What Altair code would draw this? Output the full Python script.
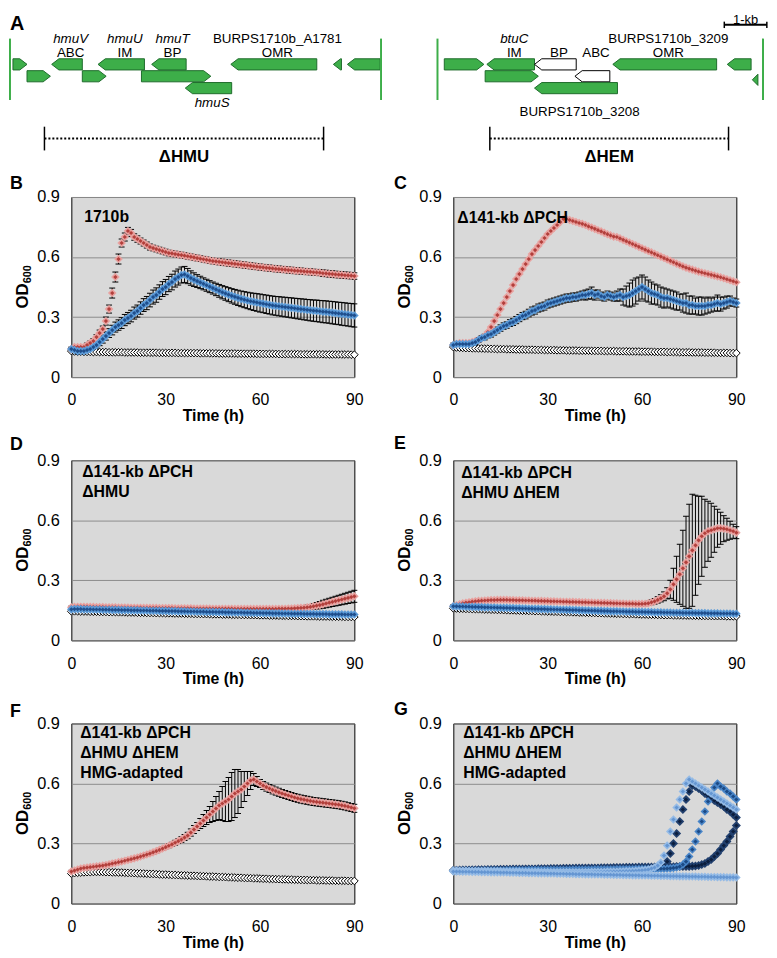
import altair as alt
import pandas as pd

HOURS = list(range(91))

# ---------------- Panel A : gene maps (kb from each locus' left boundary) ----------------
HMU_START = [0.07, 0.98, 2.07, 3.33, 5.19, 7.60, 7.93, 0.40, 1.70, 3.09, 4.12]
HMU_END = [0.40, 1.70, 3.16, 4.14, 7.21, 7.79, 8.70, 0.95, 2.26, 4.72, 5.21]
HMU_STRAND = ["+", "-", "-", "-", "-", "-", "-", "+", "+", "+", "-"]
HMU_TRACK = [1, 1, 1, 1, 1, 1, 1, 2, 2, 2, 3]
HMU_KIND = ["g", "g", "g", "g", "g", "g", "g", "g", "g", "g", "g"]
HMU_LENGTH = 8.72
HMU_LAB_GENE = [1, 1, 2, 2, 3, 3, 4, 4, 10]
HMU_LAB_TEXT = ["hmuV", "ABC", "hmuU", "IM", "hmuT", "BP", "BURPS1710b_A1781", "OMR", "hmuS"]
HMU_LAB_LINE = ["name", "func", "name", "func", "name", "func", "name", "func", "below"]
HMU_LAB_ITALIC = [True, False, True, False, True, False, False, False, True]
HMU_DEL = [0.81, 7.37]

HEM_START = [0.16, 1.16, 2.28, 4.12, 6.81, 1.12, 3.23, 7.40, 2.28]
HEM_END = [1.09, 2.28, 3.26, 6.56, 7.37, 2.37, 4.05, 7.53, 4.23]
HEM_STRAND = ["+", "-", "-", "-", "-", "+", "-", "-", "-"]
HEM_TRACK = [1, 1, 1, 1, 1, 2, 2, 2.3, 3]
HEM_KIND = ["g", "g", "w", "g", "g", "g", "w", "g", "g"]
HEM_LENGTH = 7.65
HEM_LAB_GENE = [1, 1, 2, 6, 3, 3, 8]
HEM_LAB_TEXT = ["btuC", "IM", "BP", "ABC", "BURPS1710b_3209", "OMR", "BURPS1710b_3208"]
HEM_LAB_LINE = ["name", "func", "func", "func", "name", "func", "below2"]
HEM_LAB_ITALIC = [True, False, False, False, False, False, False]
HEM_DEL = [1.23, 6.84]
SCALE_BAR = [6.74, 7.74]

# ---------------- Growth curves (OD600 each hour, 0-90 h) ----------------
B_RED = [0.14, 0.15, 0.15, 0.15, 0.15, 0.16, 0.17, 0.18, 0.20, 0.22,
         0.24, 0.28, 0.34, 0.42, 0.50, 0.59, 0.67, 0.70, 0.73, 0.72,
         0.70, 0.69, 0.68, 0.67, 0.66, 0.65, 0.645, 0.64, 0.635, 0.63,
         0.625, 0.62, 0.618, 0.615, 0.612, 0.61, 0.607, 0.604, 0.601, 0.598,
         0.595, 0.592, 0.589, 0.586, 0.583, 0.58, 0.578, 0.576, 0.574, 0.572,
         0.57, 0.568, 0.566, 0.564, 0.562, 0.56, 0.558, 0.556, 0.554, 0.552,
         0.55, 0.548, 0.546, 0.545, 0.543, 0.541, 0.54, 0.538, 0.537, 0.535,
         0.534, 0.532, 0.531, 0.53, 0.528, 0.527, 0.526, 0.524, 0.523, 0.522,
         0.519, 0.518, 0.516, 0.515, 0.513, 0.512, 0.511, 0.509, 0.508, 0.507,
         0.505]
B_RED_ERR = [0.008, 0.008, 0.008, 0.008, 0.008, 0.01, 0.01, 0.012, 0.012, 0.015,
             0.015, 0.02, 0.02, 0.025, 0.025, 0.025, 0.02, 0.02, 0.018, 0.018,
             0.016, 0.016, 0.015, 0.015, 0.015, 0.015, 0.014, 0.014, 0.014, 0.014,
             0.014, 0.014, 0.014, 0.014, 0.014, 0.014, 0.014, 0.014, 0.014, 0.014,
             0.014, 0.014, 0.014, 0.014, 0.014, 0.014, 0.014, 0.015, 0.015, 0.015,
             0.015, 0.015, 0.015, 0.015, 0.015, 0.015, 0.015, 0.015, 0.015, 0.015,
             0.015, 0.015, 0.015, 0.015, 0.015, 0.015, 0.015, 0.015, 0.015, 0.015,
             0.015, 0.015, 0.015, 0.015, 0.015, 0.015, 0.015, 0.015, 0.015, 0.015,
             0.016, 0.016, 0.016, 0.016, 0.016, 0.016, 0.016, 0.016, 0.016, 0.016,
             0.016]
B_BLUE = [0.14, 0.135, 0.13, 0.13, 0.13, 0.135, 0.14, 0.15, 0.16, 0.175,
          0.19, 0.205, 0.22, 0.235, 0.25, 0.26, 0.27, 0.285, 0.295, 0.305,
          0.32, 0.33, 0.345, 0.36, 0.37, 0.385, 0.40, 0.41, 0.425, 0.44,
          0.45, 0.465, 0.475, 0.49, 0.50, 0.51, 0.513, 0.505, 0.495, 0.487,
          0.48, 0.473, 0.466, 0.459, 0.452, 0.445, 0.438, 0.431, 0.424, 0.418,
          0.412, 0.406, 0.401, 0.396, 0.391, 0.387, 0.383, 0.379, 0.376, 0.373,
          0.37, 0.367, 0.364, 0.361, 0.358, 0.356, 0.354, 0.352, 0.35, 0.348,
          0.346, 0.344, 0.342, 0.34, 0.338, 0.336, 0.334, 0.332, 0.331, 0.329,
          0.327, 0.326, 0.324, 0.322, 0.32, 0.318, 0.316, 0.314, 0.312, 0.31,
          0.308]
B_BLUE_ERR = [0.01, 0.01, 0.01, 0.01, 0.01, 0.012, 0.012, 0.015, 0.015, 0.018,
              0.02, 0.02, 0.022, 0.024, 0.025, 0.026, 0.027, 0.028, 0.028, 0.029,
              0.03, 0.03, 0.031, 0.032, 0.033, 0.034, 0.035, 0.036, 0.036, 0.037,
              0.038, 0.038, 0.039, 0.04, 0.04, 0.04, 0.04, 0.038, 0.036, 0.034,
              0.032, 0.031, 0.03, 0.03, 0.03, 0.03, 0.031, 0.032, 0.033, 0.034,
              0.035, 0.036, 0.037, 0.038, 0.039, 0.04, 0.041, 0.042, 0.043, 0.044,
              0.045, 0.045, 0.046, 0.046, 0.047, 0.047, 0.048, 0.048, 0.049, 0.049,
              0.05, 0.05, 0.051, 0.051, 0.052, 0.052, 0.053, 0.053, 0.054, 0.054,
              0.055, 0.055, 0.055, 0.056, 0.056, 0.056, 0.057, 0.057, 0.057, 0.058,
              0.058]
B_BLACK = [0.13, 0.128, 0.127, 0.127, 0.126, 0.126, 0.126, 0.125, 0.125, 0.125,
           0.125, 0.125, 0.124, 0.124, 0.124, 0.124, 0.124, 0.123, 0.123, 0.123,
           0.123, 0.123, 0.122, 0.122, 0.122, 0.122, 0.122, 0.122, 0.121, 0.121,
           0.121, 0.121, 0.121, 0.121, 0.12, 0.12, 0.12, 0.12, 0.12, 0.12,
           0.12, 0.119, 0.119, 0.119, 0.119, 0.119, 0.119, 0.118, 0.118, 0.118,
           0.118, 0.118, 0.118, 0.117, 0.117, 0.117, 0.117, 0.117, 0.117, 0.116,
           0.116, 0.116, 0.116, 0.116, 0.116, 0.116, 0.115, 0.115, 0.115, 0.115,
           0.115, 0.115, 0.115, 0.114, 0.114, 0.114, 0.114, 0.114, 0.114, 0.114,
           0.114, 0.113, 0.113, 0.113, 0.113, 0.113, 0.113, 0.113, 0.113, 0.112,
           0.112]

C_RED = [0.16, 0.165, 0.17, 0.17, 0.17, 0.17, 0.175, 0.18, 0.185, 0.195,
         0.205, 0.225, 0.25, 0.28, 0.31, 0.34, 0.37, 0.40, 0.43, 0.46,
         0.49, 0.515, 0.54, 0.565, 0.59, 0.615, 0.635, 0.655, 0.675, 0.695,
         0.715, 0.73, 0.745, 0.76, 0.775, 0.79, 0.79, 0.785, 0.78, 0.775,
         0.77, 0.766, 0.76, 0.753, 0.747, 0.741, 0.734, 0.728, 0.721, 0.714,
         0.708, 0.702, 0.70, 0.693, 0.686, 0.679, 0.672, 0.665, 0.658, 0.651,
         0.644, 0.637, 0.63, 0.623, 0.616, 0.609, 0.602, 0.595, 0.588, 0.581,
         0.574, 0.567, 0.56, 0.553, 0.547, 0.542, 0.537, 0.532, 0.527, 0.523,
         0.519, 0.515, 0.511, 0.507, 0.503, 0.499, 0.494, 0.489, 0.484, 0.479,
         0.474]
C_BLUE = [0.16, 0.165, 0.165, 0.165, 0.165, 0.165, 0.17, 0.175, 0.185, 0.195,
          0.20, 0.21, 0.215, 0.225, 0.235, 0.245, 0.255, 0.26, 0.27, 0.275,
          0.285, 0.295, 0.305, 0.31, 0.32, 0.33, 0.335, 0.345, 0.35, 0.355,
          0.365, 0.37, 0.375, 0.38, 0.385, 0.39, 0.395, 0.395, 0.40, 0.40,
          0.405, 0.41, 0.41, 0.415, 0.42, 0.41, 0.415, 0.405, 0.40, 0.41,
          0.405, 0.40, 0.405, 0.41, 0.40, 0.405, 0.41, 0.42, 0.43, 0.44,
          0.45, 0.44, 0.43, 0.42, 0.415, 0.41, 0.40, 0.395, 0.395, 0.39,
          0.385, 0.38, 0.375, 0.37, 0.37, 0.36, 0.36, 0.355, 0.355, 0.355,
          0.355, 0.36, 0.36, 0.365, 0.37, 0.365, 0.37, 0.375, 0.38, 0.375,
          0.37]
C_BLUE_ERR = [0.01, 0.01, 0.01, 0.01, 0.01, 0.01, 0.01, 0.012, 0.012, 0.012,
              0.014, 0.014, 0.015, 0.015, 0.015, 0.016, 0.016, 0.016, 0.017, 0.017,
              0.018, 0.018, 0.018, 0.019, 0.019, 0.02, 0.02, 0.02, 0.02, 0.02,
              0.02, 0.02, 0.02, 0.02, 0.02, 0.02, 0.02, 0.02, 0.02, 0.02,
              0.02, 0.02, 0.025, 0.025, 0.03, 0.025, 0.02, 0.02, 0.02, 0.02,
              0.02, 0.02, 0.025, 0.03, 0.04, 0.05, 0.06, 0.065, 0.065, 0.06,
              0.06, 0.06, 0.055, 0.055, 0.05, 0.05, 0.05, 0.05, 0.045, 0.045,
              0.045, 0.045, 0.04, 0.045, 0.05, 0.045, 0.045, 0.04, 0.045, 0.045,
              0.04, 0.04, 0.035, 0.035, 0.04, 0.035, 0.03, 0.03, 0.025, 0.02,
              0.02]
C_BLACK = [0.15, 0.148, 0.147, 0.146, 0.145, 0.145, 0.144, 0.144, 0.143, 0.143,
           0.142, 0.142, 0.141, 0.141, 0.14, 0.14, 0.14, 0.139, 0.139, 0.139,
           0.138, 0.138, 0.138, 0.137, 0.137, 0.137, 0.136, 0.136, 0.136, 0.135,
           0.135, 0.135, 0.135, 0.134, 0.134, 0.134, 0.133, 0.133, 0.133, 0.133,
           0.132, 0.132, 0.132, 0.132, 0.131, 0.131, 0.131, 0.131, 0.13, 0.13,
           0.13, 0.13, 0.129, 0.129, 0.129, 0.129, 0.128, 0.128, 0.128, 0.128,
           0.127, 0.127, 0.127, 0.127, 0.126, 0.126, 0.126, 0.126, 0.125, 0.125,
           0.125, 0.125, 0.124, 0.124, 0.124, 0.124, 0.123, 0.123, 0.123, 0.123,
           0.122, 0.122, 0.122, 0.122, 0.121, 0.121, 0.121, 0.121, 0.12, 0.12,
           0.12]

D_RED = [0.165, 0.167, 0.168, 0.168, 0.168, 0.168, 0.167, 0.167, 0.166, 0.166,
         0.166, 0.165, 0.165, 0.165, 0.165, 0.164, 0.164, 0.164, 0.164, 0.163,
         0.163, 0.163, 0.163, 0.162, 0.162, 0.162, 0.162, 0.162, 0.161, 0.161,
         0.161, 0.161, 0.161, 0.16, 0.16, 0.16, 0.16, 0.16, 0.16, 0.159,
         0.159, 0.159, 0.159, 0.159, 0.159, 0.158, 0.158, 0.158, 0.158, 0.158,
         0.158, 0.158, 0.157, 0.157, 0.157, 0.157, 0.157, 0.157, 0.157, 0.157,
         0.157, 0.157, 0.157, 0.157, 0.157, 0.157, 0.158, 0.158, 0.158, 0.159,
         0.159, 0.16, 0.161, 0.162, 0.163, 0.165, 0.167, 0.17, 0.173, 0.176,
         0.18, 0.184, 0.188, 0.192, 0.196, 0.2, 0.204, 0.208, 0.212, 0.216,
         0.22]
D_RED_ERR = [0.006, 0.006, 0.006, 0.006, 0.006, 0.006, 0.006, 0.006, 0.006, 0.006,
             0.006, 0.006, 0.006, 0.006, 0.006, 0.006, 0.006, 0.006, 0.006, 0.006,
             0.006, 0.006, 0.006, 0.006, 0.006, 0.006, 0.006, 0.006, 0.006, 0.006,
             0.006, 0.006, 0.006, 0.006, 0.006, 0.006, 0.006, 0.006, 0.006, 0.006,
             0.006, 0.006, 0.006, 0.006, 0.006, 0.006, 0.006, 0.006, 0.006, 0.006,
             0.006, 0.006, 0.006, 0.006, 0.006, 0.006, 0.006, 0.006, 0.006, 0.006,
             0.006, 0.006, 0.006, 0.006, 0.006, 0.006, 0.006, 0.006, 0.006, 0.006,
             0.006, 0.007, 0.008, 0.009, 0.01, 0.011, 0.012, 0.014, 0.016, 0.018,
             0.02, 0.021, 0.022, 0.023, 0.024, 0.025, 0.026, 0.027, 0.028, 0.029,
             0.03]
D_BLUE = [0.155, 0.156, 0.156, 0.156, 0.155, 0.155, 0.155, 0.154, 0.154, 0.154,
          0.153, 0.153, 0.153, 0.152, 0.152, 0.152, 0.151, 0.151, 0.151, 0.15,
          0.15, 0.15, 0.149, 0.149, 0.149, 0.148, 0.148, 0.148, 0.147, 0.147,
          0.147, 0.146, 0.146, 0.146, 0.145, 0.145, 0.145, 0.144, 0.144, 0.144,
          0.143, 0.143, 0.143, 0.142, 0.142, 0.142, 0.141, 0.141, 0.141, 0.14,
          0.14, 0.14, 0.139, 0.139, 0.139, 0.138, 0.138, 0.138, 0.137, 0.137,
          0.137, 0.136, 0.136, 0.136, 0.135, 0.135, 0.135, 0.134, 0.134, 0.134,
          0.133, 0.133, 0.133, 0.133, 0.132, 0.132, 0.132, 0.132, 0.131, 0.131,
          0.131, 0.131, 0.13, 0.13, 0.13, 0.13, 0.13, 0.129, 0.129, 0.129,
          0.129]
D_BLACK = [0.145, 0.145, 0.145, 0.144, 0.144, 0.144, 0.143, 0.143, 0.143, 0.142,
           0.142, 0.142, 0.141, 0.141, 0.141, 0.14, 0.14, 0.14, 0.139, 0.139,
           0.139, 0.138, 0.138, 0.138, 0.137, 0.137, 0.137, 0.136, 0.136, 0.136,
           0.135, 0.135, 0.135, 0.134, 0.134, 0.134, 0.133, 0.133, 0.133, 0.132,
           0.132, 0.132, 0.131, 0.131, 0.131, 0.13, 0.13, 0.13, 0.129, 0.129,
           0.129, 0.128, 0.128, 0.128, 0.127, 0.127, 0.127, 0.126, 0.126, 0.126,
           0.125, 0.125, 0.125, 0.124, 0.124, 0.124, 0.123, 0.123, 0.123, 0.122,
           0.122, 0.122, 0.121, 0.121, 0.121, 0.12, 0.12, 0.12, 0.12, 0.119,
           0.119, 0.119, 0.119, 0.118, 0.118, 0.118, 0.118, 0.117, 0.117, 0.117,
           0.117]

E_RED = [0.17, 0.175, 0.18, 0.185, 0.188, 0.19, 0.193, 0.195, 0.197, 0.198,
         0.199, 0.2, 0.201, 0.201, 0.202, 0.202, 0.202, 0.202, 0.201, 0.201,
         0.2, 0.2, 0.2, 0.199, 0.199, 0.198, 0.198, 0.197, 0.197, 0.196,
         0.196, 0.195, 0.195, 0.194, 0.194, 0.193, 0.193, 0.192, 0.192, 0.191,
         0.191, 0.19, 0.19, 0.189, 0.189, 0.188, 0.188, 0.187, 0.187, 0.186,
         0.186, 0.185, 0.185, 0.184, 0.184, 0.183, 0.183, 0.183, 0.182, 0.182,
         0.182, 0.183, 0.185, 0.19, 0.195, 0.202, 0.21, 0.22, 0.235, 0.255,
         0.28, 0.305, 0.33, 0.36, 0.39, 0.42, 0.45, 0.475, 0.5, 0.52,
         0.535, 0.545, 0.55, 0.555, 0.56, 0.56, 0.558, 0.555, 0.55, 0.545,
         0.538]
E_RED_ERR = [0.008, 0.008, 0.008, 0.008, 0.008, 0.008, 0.008, 0.008, 0.008, 0.008,
             0.008, 0.008, 0.008, 0.008, 0.008, 0.008, 0.008, 0.008, 0.008, 0.008,
             0.008, 0.008, 0.008, 0.008, 0.008, 0.008, 0.008, 0.008, 0.008, 0.008,
             0.008, 0.008, 0.008, 0.008, 0.008, 0.008, 0.008, 0.008, 0.008, 0.008,
             0.008, 0.008, 0.008, 0.008, 0.008, 0.008, 0.008, 0.008, 0.008, 0.008,
             0.008, 0.008, 0.008, 0.008, 0.008, 0.009, 0.009, 0.009, 0.009, 0.009,
             0.01, 0.01, 0.01, 0.012, 0.014, 0.016, 0.018, 0.022, 0.028, 0.045,
             0.08, 0.115, 0.15, 0.19, 0.23, 0.26, 0.28, 0.25, 0.22, 0.2,
             0.17, 0.15, 0.135, 0.115, 0.095, 0.08, 0.065, 0.055, 0.045, 0.035,
             0.03]
E_BLUE = [0.17, 0.17, 0.169, 0.169, 0.168, 0.168, 0.167, 0.167, 0.166, 0.166,
          0.165, 0.165, 0.164, 0.164, 0.163, 0.163, 0.162, 0.162, 0.161, 0.161,
          0.16, 0.16, 0.159, 0.159, 0.158, 0.158, 0.157, 0.157, 0.156, 0.156,
          0.155, 0.155, 0.154, 0.154, 0.153, 0.153, 0.152, 0.152, 0.151, 0.151,
          0.15, 0.15, 0.149, 0.149, 0.148, 0.148, 0.147, 0.147, 0.146, 0.146,
          0.145, 0.145, 0.145, 0.144, 0.144, 0.143, 0.143, 0.143, 0.142, 0.142,
          0.142, 0.141, 0.141, 0.141, 0.14, 0.14, 0.14, 0.139, 0.139, 0.139,
          0.138, 0.138, 0.138, 0.137, 0.137, 0.137, 0.137, 0.136, 0.136, 0.136,
          0.136, 0.135, 0.135, 0.135, 0.135, 0.134, 0.134, 0.134, 0.134, 0.133,
          0.133]
E_BLACK = [0.16, 0.159, 0.158, 0.158, 0.157, 0.157, 0.156, 0.156, 0.155, 0.155,
           0.154, 0.154, 0.153, 0.153, 0.152, 0.152, 0.151, 0.151, 0.15, 0.15,
           0.149, 0.149, 0.148, 0.148, 0.147, 0.147, 0.146, 0.146, 0.145, 0.145,
           0.144, 0.144, 0.143, 0.143, 0.142, 0.142, 0.141, 0.141, 0.14, 0.14,
           0.139, 0.139, 0.138, 0.138, 0.137, 0.137, 0.136, 0.136, 0.135, 0.135,
           0.134, 0.134, 0.133, 0.133, 0.132, 0.132, 0.131, 0.131, 0.13, 0.13,
           0.129, 0.129, 0.128, 0.128, 0.128, 0.127, 0.127, 0.126, 0.126, 0.126,
           0.125, 0.125, 0.125, 0.124, 0.124, 0.124, 0.123, 0.123, 0.123, 0.122,
           0.122, 0.122, 0.122, 0.121, 0.121, 0.121, 0.121, 0.12, 0.12, 0.12,
           0.12]

F_RED = [0.16, 0.165, 0.17, 0.175, 0.178, 0.18, 0.182, 0.184, 0.186, 0.188,
         0.19, 0.193, 0.196, 0.2, 0.203, 0.207, 0.21, 0.214, 0.218, 0.222,
         0.226, 0.23, 0.235, 0.24, 0.245, 0.25, 0.256, 0.262, 0.268, 0.275,
         0.282, 0.289, 0.296, 0.304, 0.312, 0.32, 0.33, 0.34, 0.355, 0.37,
         0.385, 0.4, 0.415, 0.43, 0.445, 0.46, 0.475, 0.49, 0.5, 0.51,
         0.52, 0.535, 0.55, 0.56, 0.57, 0.585, 0.6, 0.615, 0.62, 0.61,
         0.6, 0.59, 0.582, 0.575, 0.568, 0.562, 0.556, 0.55, 0.545, 0.54,
         0.535, 0.53, 0.526, 0.522, 0.519, 0.516, 0.513, 0.51, 0.508, 0.506,
         0.504, 0.502, 0.5, 0.498, 0.496, 0.494, 0.491, 0.488, 0.484, 0.48,
         0.476]
F_RED_ERR = [0.006, 0.006, 0.006, 0.007, 0.007, 0.007, 0.007, 0.007, 0.008, 0.008,
             0.008, 0.008, 0.008, 0.008, 0.008, 0.008, 0.008, 0.008, 0.008, 0.008,
             0.008, 0.008, 0.008, 0.008, 0.008, 0.008, 0.008, 0.008, 0.008, 0.008,
             0.008, 0.01, 0.01, 0.012, 0.012, 0.014, 0.015, 0.016, 0.018, 0.02,
             0.02, 0.025, 0.03, 0.035, 0.04, 0.05, 0.06, 0.07, 0.085, 0.1,
             0.11, 0.12, 0.12, 0.11, 0.09, 0.075, 0.06, 0.045, 0.03, 0.025,
             0.02, 0.02, 0.02, 0.02, 0.02, 0.02, 0.02, 0.02, 0.02, 0.02,
             0.02, 0.02, 0.02, 0.02, 0.02, 0.02, 0.02, 0.02, 0.02, 0.02,
             0.02, 0.02, 0.02, 0.02, 0.02, 0.02, 0.02, 0.02, 0.02, 0.02,
             0.02]
F_BLACK = [0.15, 0.152, 0.154, 0.155, 0.156, 0.157, 0.157, 0.158, 0.158, 0.158,
           0.158, 0.157, 0.157, 0.156, 0.156, 0.155, 0.155, 0.154, 0.153, 0.153,
           0.152, 0.151, 0.151, 0.15, 0.149, 0.148, 0.148, 0.147, 0.146, 0.145,
           0.145, 0.144, 0.143, 0.143, 0.142, 0.141, 0.141, 0.14, 0.139, 0.139,
           0.138, 0.137, 0.137, 0.136, 0.135, 0.135, 0.134, 0.133, 0.133, 0.132,
           0.131, 0.131, 0.13, 0.129, 0.129, 0.128, 0.127, 0.127, 0.126, 0.126,
           0.125, 0.124, 0.124, 0.123, 0.123, 0.122, 0.122, 0.121, 0.121, 0.12,
           0.12, 0.119, 0.119, 0.118, 0.118, 0.118, 0.117, 0.117, 0.116, 0.116,
           0.116, 0.115, 0.115, 0.115, 0.114, 0.114, 0.114, 0.114, 0.113, 0.113,
           0.113]

G_LIGHT_FLAT = [0.16, 0.16, 0.16, 0.159, 0.159, 0.159, 0.158, 0.158, 0.158, 0.157,
                0.157, 0.157, 0.156, 0.156, 0.156, 0.155, 0.155, 0.155, 0.154, 0.154,
                0.154, 0.153, 0.153, 0.153, 0.152, 0.152, 0.152, 0.151, 0.151, 0.151,
                0.15, 0.15, 0.15, 0.149, 0.149, 0.149, 0.148, 0.148, 0.148, 0.147,
                0.147, 0.147, 0.146, 0.146, 0.146, 0.145, 0.145, 0.145, 0.144, 0.144,
                0.144, 0.143, 0.143, 0.143, 0.142, 0.142, 0.142, 0.141, 0.141, 0.141,
                0.14, 0.14, 0.14, 0.139, 0.139, 0.139, 0.138, 0.138, 0.138, 0.137,
                0.137, 0.137, 0.136, 0.136, 0.136, 0.135, 0.135, 0.135, 0.134, 0.134,
                0.134, 0.133, 0.133, 0.133, 0.132, 0.132, 0.132, 0.131, 0.131, 0.131,
                0.13]
G_LIGHT = [0.165, 0.165, 0.164, 0.164, 0.164, 0.163, 0.163, 0.163, 0.162, 0.162,
           0.162, 0.162, 0.161, 0.161, 0.161, 0.161, 0.16, 0.16, 0.16, 0.16,
           0.16, 0.16, 0.159, 0.159, 0.159, 0.159, 0.159, 0.159, 0.158, 0.158,
           0.158, 0.158, 0.158, 0.158, 0.158, 0.158, 0.158, 0.158, 0.158, 0.158,
           0.158, 0.158, 0.158, 0.158, 0.159, 0.159, 0.159, 0.159, 0.159, 0.16,
           0.16, 0.16, 0.16, 0.161, 0.161, 0.162, 0.162, 0.163, 0.164, 0.165,
           0.166, 0.168, 0.17, 0.175, 0.18, 0.19, 0.205, 0.24, 0.29, 0.36,
           0.42, 0.48, 0.52, 0.56, 0.6, 0.62, 0.61, 0.6, 0.59, 0.58,
           0.57, 0.56, 0.55, 0.54, 0.53, 0.52, 0.51, 0.5, 0.49, 0.48,
           0.47]
G_NAVY1 = [0.164, 0.165, 0.165, 0.166, 0.166, 0.166, 0.167, 0.167, 0.167, 0.167,
           0.168, 0.168, 0.168, 0.168, 0.169, 0.169, 0.169, 0.169, 0.17, 0.17,
           0.17, 0.17, 0.17, 0.171, 0.171, 0.171, 0.171, 0.172, 0.172, 0.172,
           0.172, 0.172, 0.173, 0.173, 0.173, 0.173, 0.173, 0.174, 0.174, 0.174,
           0.174, 0.174, 0.175, 0.175, 0.175, 0.175, 0.175, 0.176, 0.176, 0.176,
           0.176, 0.176, 0.177, 0.177, 0.177, 0.177, 0.177, 0.178, 0.178, 0.178,
           0.178, 0.178, 0.179, 0.179, 0.18, 0.181, 0.183, 0.19, 0.21, 0.25,
           0.3, 0.35, 0.41, 0.47, 0.52, 0.56, 0.59, 0.585, 0.575, 0.565,
           0.55, 0.54, 0.53, 0.515, 0.505, 0.495, 0.485, 0.47, 0.46, 0.445,
           0.43]
G_MID = [0.163, 0.163, 0.163, 0.163, 0.164, 0.164, 0.164, 0.164, 0.164, 0.164,
         0.165, 0.165, 0.165, 0.165, 0.165, 0.165, 0.165, 0.166, 0.166, 0.166,
         0.166, 0.166, 0.166, 0.166, 0.167, 0.167, 0.167, 0.167, 0.167, 0.167,
         0.167, 0.168, 0.168, 0.168, 0.168, 0.168, 0.168, 0.168, 0.169, 0.169,
         0.169, 0.169, 0.169, 0.169, 0.169, 0.17, 0.17, 0.17, 0.17, 0.17,
         0.17, 0.17, 0.171, 0.171, 0.171, 0.171, 0.171, 0.171, 0.172, 0.172,
         0.172, 0.172, 0.172, 0.173, 0.173, 0.173, 0.174, 0.174, 0.175, 0.176,
         0.178, 0.18, 0.185, 0.195, 0.21, 0.235, 0.27, 0.31, 0.36, 0.41,
         0.46, 0.51, 0.55, 0.58, 0.6, 0.585, 0.575, 0.56, 0.55, 0.535,
         0.52]
G_NAVY2 = [0.166, 0.166, 0.167, 0.167, 0.167, 0.168, 0.168, 0.168, 0.169, 0.169,
           0.169, 0.17, 0.17, 0.17, 0.17, 0.171, 0.171, 0.171, 0.171, 0.172,
           0.172, 0.172, 0.172, 0.173, 0.173, 0.173, 0.173, 0.174, 0.174, 0.174,
           0.174, 0.175, 0.175, 0.175, 0.175, 0.176, 0.176, 0.176, 0.176, 0.177,
           0.177, 0.177, 0.177, 0.178, 0.178, 0.178, 0.178, 0.179, 0.179, 0.179,
           0.179, 0.18, 0.18, 0.18, 0.18, 0.181, 0.181, 0.181, 0.181, 0.182,
           0.182, 0.182, 0.182, 0.183, 0.183, 0.183, 0.183, 0.184, 0.184, 0.184,
           0.184, 0.185, 0.185, 0.185, 0.186, 0.186, 0.187, 0.188, 0.19, 0.195,
           0.2, 0.21, 0.22, 0.235, 0.25, 0.27, 0.29, 0.31, 0.335, 0.36,
           0.39]

# ---------------- styling / layout ----------------
FONT = "Liberation Sans"
GREEN = "#3DAE49"
GENE_FILL = {"g": GREEN, "w": "white"}
GENE_STROKE = {"g": "#1E6B2C", "w": "black"}
HEAD = 0.17
HALF = 0.47
A_H = 101
TRACK_DOMAIN = [-3.25, 5.17]
LINE_POS = {"name": -1.17, "func": 0.08, "below": 4.25, "below2": 5.0}
PANEL_W, PANEL_H = 286, 182

STYLE = {
    "red": ("#E8A19F", "#B23F3B", 76),
    "blue": ("#5C9BD8", "#1F4E8C", 76),
    "glight": ("#95BBE6", "#6596D2", 76),
    "gmid": ("#4A86C8", "#1C4A85", 76),
    "gnavy": ("#22406E", "#0C1E3D", 84),
}


def body_center(s, e, strand):
    return (s + e - HEAD) / 2 if strand == "+" else (s + HEAD + e) / 2


def locus_chart(start, end, strand, track, kind, length, lab_gene, lab_text,
                lab_line, lab_italic, dele, del_text, x_range, letter=None, bar=None):
    xs = alt.Scale(domain=[0, length], range=x_range, nice=False, zero=False)
    ys = alt.Scale(domain=TRACK_DOMAIN, range=[0, A_H], nice=False, zero=False)

    def X(f):
        return alt.X(f"{f}:Q", scale=xs, axis=None)

    def Y(f):
        return alt.Y(f"{f}:Q", scale=ys, axis=None, stack=None)

    poly = []
    for i, (s, e, st, tr, k) in enumerate(zip(start, end, strand, track, kind)):
        top, bot = tr - HALF, tr + HALF
        h = min(HEAD, e - s)
        if st == "+":
            pts = [(s, top, bot)]
            if e - h > s + 1e-9:
                pts.append((e - h, top, bot))
            pts.append((e, tr, tr))
        else:
            pts = [(s, tr, tr)]
            if s + h < e - 1e-9:
                pts.append((s + h, top, bot))
            pts.append((e, top, bot))
        for (px, a, b) in pts:
            poly.append({"gid": i, "x": px, "ya": a, "yb": b,
                         "fill": GENE_FILL[k], "stroke": GENE_STROKE[k]})
    layers = []
    layers.append(
        alt.Chart(pd.DataFrame(poly)).mark_area(
            orient="vertical", strokeWidth=1, opacity=1, fillOpacity=1
        ).encode(
            x=X("x"), y=Y("ya"), y2="yb:Q", detail="gid:N",
            fill=alt.Fill("fill:N", scale=None), stroke=alt.Stroke("stroke:N", scale=None)
        )
    )
    bnd = pd.DataFrame({"x": [0, length], "y1": [-1.17, -1.17], "y2": [4.0, 4.0]})
    layers.append(alt.Chart(bnd).mark_rule(color=GREEN, strokeWidth=2).encode(
        x=X("x"), y=Y("y1"), y2="y2:Q"))

    labs = pd.DataFrame({
        "x": [body_center(start[g], end[g], strand[g]) for g in lab_gene],
        "y": [LINE_POS[l] for l in lab_line],
        "text": lab_text,
        "italic": lab_italic,
    })
    for it in (True, False):
        sub = labs[labs["italic"] == it]
        if len(sub):
            layers.append(alt.Chart(sub).mark_text(
                fontSize=13.5, fontStyle="italic" if it else "normal", color="black",
                baseline="middle", align="center").encode(x=X("x"), y=Y("y"), text="text:N"))

    dd = pd.DataFrame({"x": [dele[0]], "x2": [dele[1]], "y": [7.25]})
    layers.append(alt.Chart(dd).mark_rule(color="black", strokeWidth=2, strokeDash=[2, 2]).encode(
        x=X("x"), x2="x2:Q", y=Y("y")))
    dt = pd.DataFrame({"x": dele, "y1": [6.25, 6.25], "y2": [8.25, 8.25]})
    layers.append(alt.Chart(dt).mark_rule(color="black", strokeWidth=1.5).encode(
        x=X("x"), y=Y("y1"), y2="y2:Q"))
    dx = pd.DataFrame({"x": [(dele[0] + dele[1]) / 2], "y": [8.83], "text": [del_text]})
    layers.append(alt.Chart(dx).mark_text(fontSize=17, fontWeight="bold", color="black",
                                          baseline="middle").encode(x=X("x"), y=Y("y"), text="text:N"))
    if bar is not None:
        sb = pd.DataFrame({"x": [bar[0]], "x2": [bar[1]], "y": [-2.33]})
        layers.append(alt.Chart(sb).mark_rule(color="black", strokeWidth=2).encode(
            x=X("x"), x2="x2:Q", y=Y("y")))
        st_ = pd.DataFrame({"x": bar, "y1": [-2.6, -2.6], "y2": [-2.06, -2.06]})
        layers.append(alt.Chart(st_).mark_rule(color="black", strokeWidth=1.5).encode(
            x=X("x"), y=Y("y1"), y2="y2:Q"))
        stx = pd.DataFrame({"x": [(bar[0] + bar[1]) / 2], "y": [TRACK_DOMAIN[0]], "text": ["1-kb"]})
        layers.append(alt.Chart(stx).mark_text(fontSize=13, color="black", baseline="top").encode(
            x=X("x"), y=Y("y"), text="text:N"))
    if letter is not None:
        layers.append(alt.Chart(pd.DataFrame({"s": [letter]})).mark_text(
            fontSize=20, fontWeight="bold", color="black", align="left", baseline="top"
        ).encode(text="s:N", x=alt.value(-62), y=alt.value(0)))
    return alt.layer(*layers).properties(width=PANEL_W, height=A_H)


def x_enc():
    return alt.X("t:Q", scale=alt.Scale(domain=[0, 90], nice=False, zero=False),
                 axis=alt.Axis(values=[0, 30, 60, 90], title="Time (h)", grid=False, ticks=False,
                               domain=False, labelPadding=15, titlePadding=0, labelFontSize=16,
                               titleFontSize=16, titleFontWeight="bold", labelColor="black",
                               titleColor="black", labelFlush=False))


def y_enc(field):
    return alt.Y(f"{field}:Q", scale=alt.Scale(domain=[0, 0.9], nice=False, zero=False),
                 axis=alt.Axis(values=[0, 0.3, 0.6, 0.9], format="~g", title=None, grid=True,
                               gridColor="#8C8C8C", gridWidth=1, ticks=False, domain=False,
                               labelPadding=12, labelFontSize=16.5, labelColor="black",
                               labelFlush=False))


def growth_panel(series, text, tx, ty, letter, lx, ly):
    layers = []
    for vals, errs, style in series:
        assert len(vals) == 91
        if errs is not None:
            assert len(errs) == 91
            d = pd.DataFrame({"t": HOURS,
                              "lo": [v - e for v, e in zip(vals, errs)],
                              "hi": [v + e for v, e in zip(vals, errs)]})
            layers.append(alt.Chart(d).mark_rule(color="black", strokeWidth=1).encode(
                x=x_enc(), y=y_enc("lo"), y2="hi:Q"))
            for f in ("hi", "lo"):
                layers.append(alt.Chart(d).mark_point(
                    shape="M-1,0L1,0", size=36, filled=False, stroke="black",
                    strokeWidth=1, opacity=1).encode(x=x_enc(), y=y_enc(f)))
    for vals, errs, style in series:
        d = pd.DataFrame({"t": HOURS, "v": vals})
        if style == "black":
            layers.append(alt.Chart(d).mark_point(
                shape="diamond", filled=True, fill="white", stroke="black", strokeWidth=1,
                size=60, opacity=1).encode(x=x_enc(), y=y_enc("v")))
        else:
            outer, inner, size = STYLE[style]
            layers.append(alt.Chart(d).mark_point(
                shape="diamond", filled=True, color=outer, size=size, opacity=1).encode(
                x=x_enc(), y=y_enc("v")))
            layers.append(alt.Chart(d).mark_point(
                shape="diamond", filled=True, color=inner, size=18, opacity=1).encode(
                x=x_enc(), y=y_enc("v")))
    # panel text, panel letter, and the OD600 axis title (OD with subscript 600)
    layers.append(alt.Chart(pd.DataFrame({"s": [text]})).mark_text(
        align="left", baseline="top", fontWeight="bold", fontSize=16, lineBreak="\n",
        lineHeight=20, color="black").encode(text="s:N", x=alt.value(tx), y=alt.value(ty)))
    layers.append(alt.Chart(pd.DataFrame({"s": [letter]})).mark_text(
        align="left", baseline="middle", fontWeight="bold", fontSize=18, color="black"
    ).encode(text="s:N", x=alt.value(lx), y=alt.value(ly)))
    layers.append(alt.Chart(pd.DataFrame({"s": ["OD"]})).mark_text(
        angle=270, align="center", baseline="alphabetic", fontWeight="bold", fontSize=17,
        color="black").encode(text="s:N", x=alt.value(-44), y=alt.value(100)))
    layers.append(alt.Chart(pd.DataFrame({"s": ["600"]})).mark_text(
        angle=270, align="center", baseline="alphabetic", fontWeight="bold", fontSize=11,
        color="black").encode(text="s:N", x=alt.value(-41), y=alt.value(78)))
    return alt.layer(*layers).properties(
        width=PANEL_W, height=PANEL_H,
        view=alt.ViewBackground(fill="#D9D9D9", stroke="black", strokeWidth=1))


a_left = locus_chart(HMU_START, HMU_END, HMU_STRAND, HMU_TRACK, HMU_KIND, HMU_LENGTH,
                     HMU_LAB_GENE, HMU_LAB_TEXT, HMU_LAB_LINE, HMU_LAB_ITALIC, HMU_DEL, "ΔHMU",
                     [-62, -62 + HMU_LENGTH * 43], letter="A")
a_right = locus_chart(HEM_START, HEM_END, HEM_STRAND, HEM_TRACK, HEM_KIND, HEM_LENGTH,
                      HEM_LAB_GENE, HEM_LAB_TEXT, HEM_LAB_LINE, HEM_LAB_ITALIC, HEM_DEL, "ΔHEM",
                      [-16, -16 + HEM_LENGTH * 43], bar=SCALE_BAR)

pB = growth_panel([(B_BLACK, None, "black"), (B_RED, B_RED_ERR, "red"), (B_BLUE, B_BLUE_ERR, "blue")],
                  "1710b", 13, 12, "B", -62, -13)
pC = growth_panel([(C_BLACK, None, "black"), (C_RED, None, "red"), (C_BLUE, C_BLUE_ERR, "blue")],
                  "Δ141-kb ΔPCH", 4, 13, "C", -60, -13)
pD = growth_panel([(D_BLACK, None, "black"), (D_RED, D_RED_ERR, "red"), (D_BLUE, None, "blue")],
                  "Δ141-kb ΔPCH\nΔHMU", 11, 4, "D", -62, -15)
pE = growth_panel([(E_BLACK, None, "black"), (E_RED, E_RED_ERR, "red"), (E_BLUE, None, "blue")],
                  "Δ141-kb ΔPCH\nΔHMU ΔHEM", 8, 5, "E", -60, -16)
pF = growth_panel([(F_BLACK, None, "black"), (F_RED, F_RED_ERR, "red")],
                  "Δ141-kb ΔPCH\nΔHMU ΔHEM\nHMG-adapted", 9, 2, "F", -62, -12)
pG = growth_panel([(G_NAVY2, None, "gnavy"), (G_NAVY1, None, "gnavy"), (G_MID, None, "gmid"),
                   (G_LIGHT, None, "glight"), (G_LIGHT_FLAT, None, "glight")],
                  "Δ141-kb ΔPCH\nΔHMU ΔHEM\nHMG-adapted", 10, 2, "G", -60, -14)

chart = alt.concat(
    a_left, a_right, pB, pC, pD, pE, pF, pG,
    columns=2, spacing={"row": 84, "column": 100}, bounds="flush", padding=0,
).configure(font=FONT).configure_view(stroke="transparent")

chart.save("out.html", embed_options={"renderer": "svg", "actions": False})
